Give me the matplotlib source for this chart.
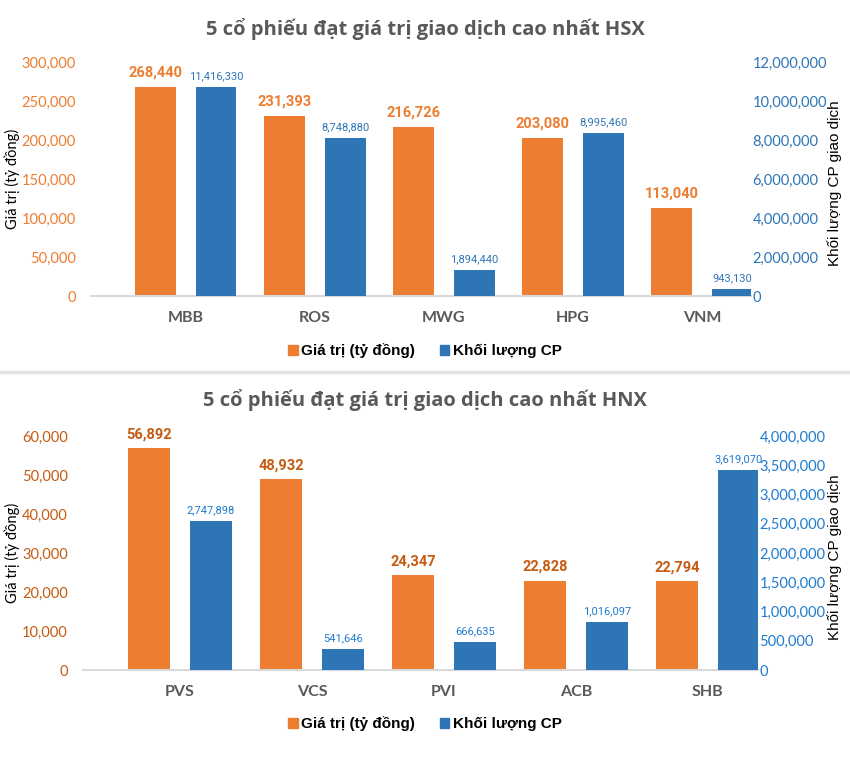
import numpy as np
import matplotlib.pyplot as plt
from matplotlib.lines import Line2D
from matplotlib.patches import Patch
from matplotlib.ticker import FuncFormatter

# --- HSX ---
hsx_ma = ['MBB', 'ROS', 'MWG', 'HPG', 'VNM']
hsx_gia_tri = [268440, 231393, 216726, 203080, 113040]
hsx_kl_nhan = [11416330, 8748880, 1894440, 8995460, 943130]
# chiều cao cột xanh đọc trên hình (không khớp nhãn trong bản gốc)
hsx_kl_cot = [10720000, 8100000, 1330000, 8360000, 360000]

# --- HNX ---
hnx_ma = ['PVS', 'VCS', 'PVI', 'ACB', 'SHB']
hnx_gia_tri = [56892, 48932, 24347, 22828, 22794]
hnx_kl_nhan = [2747898, 541646, 666635, 1016097, 3619070]
hnx_kl_cot = [2547000, 360000, 480000, 820000, 3420000]

CAM = '#ED7D31'
XANH = '#2E75B6'
XAM = '#595959'
NARROW = ['Liberation Sans Narrow', 'Roboto', 'DejaVu Sans']

W, H = 850, 771
fig = plt.figure(figsize=(W / 100, H / 100), dpi=100)


def ve_bieu_do(rect, tieu_de, ma, gia_tri, kl_cot, kl_nhan, ymax_trai, ymax_phai,
               buoc_phai, mau_nhan_cam, mau_xanh_chu, y_tieu_de, y_chu_giai):
    l, t, r, b = rect
    ax = fig.add_axes([l / W, 1 - b / H, (r - l) / W, (b - t) / H])
    ax2 = ax.twinx()
    x = np.arange(len(ma))
    bw = 0.315
    ax.bar(x - 0.235, gia_tri, bw, color=CAM, zorder=2)
    ax2.bar(x + 0.235, kl_cot, bw, color=XANH, zorder=2)

    ax.set_xlim(-0.735, 4.38)
    ax.set_ylim(0, ymax_trai)
    ax2.set_ylim(0, ymax_phai)
    ax.set_yticks(np.linspace(0, ymax_trai, 7))
    ax2.set_yticks(np.arange(0, ymax_phai + 1, buoc_phai))
    fmt = FuncFormatter(lambda v, p: f'{v:,.0f}')
    ax.yaxis.set_major_formatter(fmt)
    ax2.yaxis.set_major_formatter(fmt)

    for a in (ax, ax2):
        for s in a.spines.values():
            s.set_visible(False)
        a.tick_params(length=0)
    ax.spines['bottom'].set_visible(True)
    ax.spines['bottom'].set_color('#D9D9D9')
    ax.spines['bottom'].set_linewidth(1.5)

    ax.tick_params(axis='y', labelsize=10.5, labelcolor=mau_nhan_cam, pad=11)
    ax2.tick_params(axis='y', labelsize=10.5, labelcolor=mau_xanh_chu, pad=1)
    for lb in ax.get_yticklabels() + ax2.get_yticklabels():
        lb.set_family('Lato')
    ax.set_xticks(x)
    ax.set_xticklabels(ma, fontsize=11.5, fontweight='bold', color=XAM, family='Lato')
    ax.tick_params(axis='x', pad=11)

    for xi, v in zip(x, gia_tri):
        ax.annotate(f'{v:,}', (xi - 0.235, v), xytext=(0, 5), textcoords='offset points',
                    ha='center', va='bottom', fontsize=10.5, fontweight='bold',
                    color=mau_nhan_cam, family=NARROW)
    for xi, h, v in zip(x, kl_cot, kl_nhan):
        ax2.annotate(f'{v:,}', (xi + 0.235, h), xytext=(0, 4), textcoords='offset points',
                     ha='center', va='bottom', fontsize=8, color=mau_xanh_chu, family=NARROW)

    fig.text(0.5, 1 - y_tieu_de / H, tieu_de, ha='center', va='center', fontsize=14.5,
             fontweight='bold', color=XAM, family='Open Sans')
    yc = 1 - (t + b) / 2 / H
    fig.text(12 / W, yc, 'Giá trị (tỷ đồng)', rotation=90, ha='center', va='center',
             fontsize=10.5, family='Lato')
    fig.text(835 / W, yc - 4 / H, 'Khối lượng CP giao dịch', rotation=90, ha='center',
             va='center', fontsize=11, family='Liberation Sans')

    tay = [Patch(color=CAM), Patch(color=XANH)]
    fig.legend(tay, ['Giá trị (tỷ đồng)', 'Khối lượng CP'], loc='center',
               bbox_to_anchor=(0.5, 1 - y_chu_giai / H), ncol=2, frameon=False,
               prop={'family': 'Liberation Sans', 'weight': 'bold', 'size': 11},
               handlelength=0.6, handleheight=0.6, handletextpad=0.25, columnspacing=1.6)


ve_bieu_do((91, 62, 751, 296), '5 cổ phiếu đạt giá trị giao dịch cao nhất HSX',
           hsx_ma, hsx_gia_tri, hsx_kl_cot, hsx_kl_nhan, 300000, 12000000, 2000000,
           CAM, XANH, 29, 351)
ve_bieu_do((83, 436, 758, 670), '5 cổ phiếu đạt giá trị giao dịch cao nhất HNX',
           hnx_ma, hnx_gia_tri, hnx_kl_cot, hnx_kl_nhan, 60000, 4000000, 500000,
           '#C55A11', '#1F7BD0', 400, 724)

fig.add_artist(Line2D([0, 1], [1 - 372 / H, 1 - 372 / H], color='#E3E3E3', lw=2.5))

fig.savefig('out.png', dpi=100, facecolor='white')
